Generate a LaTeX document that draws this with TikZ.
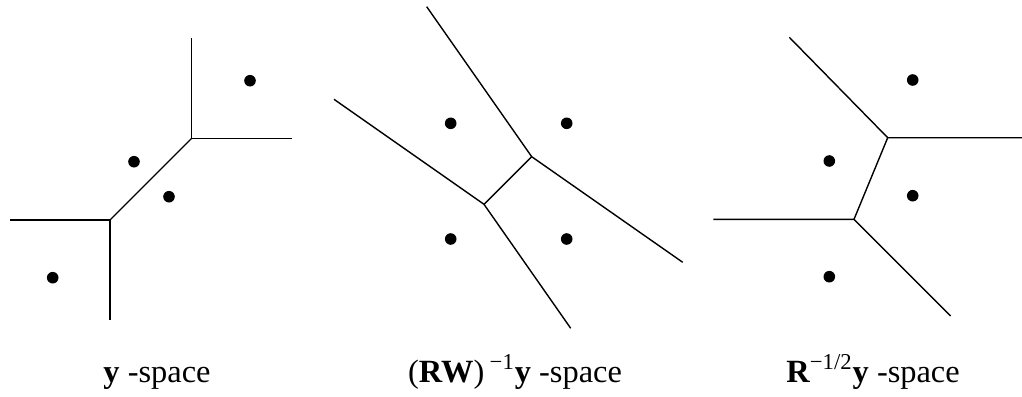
\documentclass[tikz,border=0pt]{standalone}
\usepackage{fontspec}
\setmainfont{Liberation Serif}
\usetikzlibrary{positioning}

\begin{document}
\begin{tikzpicture}[x=0.5pt,y=-0.5pt,line width=0.7pt]
  \tikzset{spacelab/.style={anchor=base,font=\fontsize{16.2}{16.2}\selectfont,inner sep=0pt}}
  \useasboundingbox (0,0) rectangle (1022,396);
  % y-space
  \coordinate (YA) at (191.7,138.3);
  \coordinate (YB) at (110,220);
  \coordinate (YAtop) at (191.7,38.3);
  \coordinate (YAright) at (292,138.3);
  \coordinate (YBleft) at (10,220);
  \coordinate (YBdown) at (110,320);
  \draw (YAtop) -- (YA) -- (YAright);
  \draw (YA) -- (YB);
  \draw (YBleft) -- (YB) -- (YBdown);
  \foreach \p in {(250,80.7),(134,161.7),(169,196.7),(52.7,277.7)}
    \fill \p circle (2.9pt);
  \node[spacelab] (ylab) at (157,382) {\textbf{y} -space};
  % (RW)^-1 y-space
  \coordinate (WC) at (531.7,156.7);
  \coordinate (WD) at (484,204.3);
  \coordinate (WCtop) at (426.7,6.7);
  \coordinate (WCright) at (682.7,262.3);
  \coordinate (WDleft) at (334,99.3);
  \coordinate (WDdown) at (570.7,328.3);
  \draw (WCtop) -- (WC) -- (WCright);
  \draw (WC) -- (WD);
  \draw (WDleft) -- (WD) -- (WDdown);
  \foreach \p in {(450.7,123.3),(566.7,123.3),(450.7,239),(566.7,239)}
    \fill \p circle (2.9pt);
  \node[spacelab] (rwlab) at (515,382) {(\textbf{RW})\,\textsuperscript{−1}\textbf{y} -space};
  % R^-1/2 y-space
  \coordinate (RE) at (887.7,137.7);
  \coordinate (RF) at (854,219.3);
  \coordinate (REtop) at (789.3,37.3);
  \coordinate (REright) at (1022,137.7);
  \coordinate (RFleft) at (713.3,219.3);
  \coordinate (RFdown) at (950.7,316);
  \draw (REtop) -- (RE) -- (REright);
  \draw (RE) -- (RF);
  \draw (RFleft) -- (RF) -- (RFdown);
  \foreach \p in {(912.7,80),(829.3,161),(912.7,195.7),(829.3,276.7)}
    \fill \p circle (2.9pt);
  \node[spacelab] (rlab) at (873,382) {\textbf{R}\textsuperscript{−1/2}\textbf{y} -space};
\end{tikzpicture}
\end{document}
